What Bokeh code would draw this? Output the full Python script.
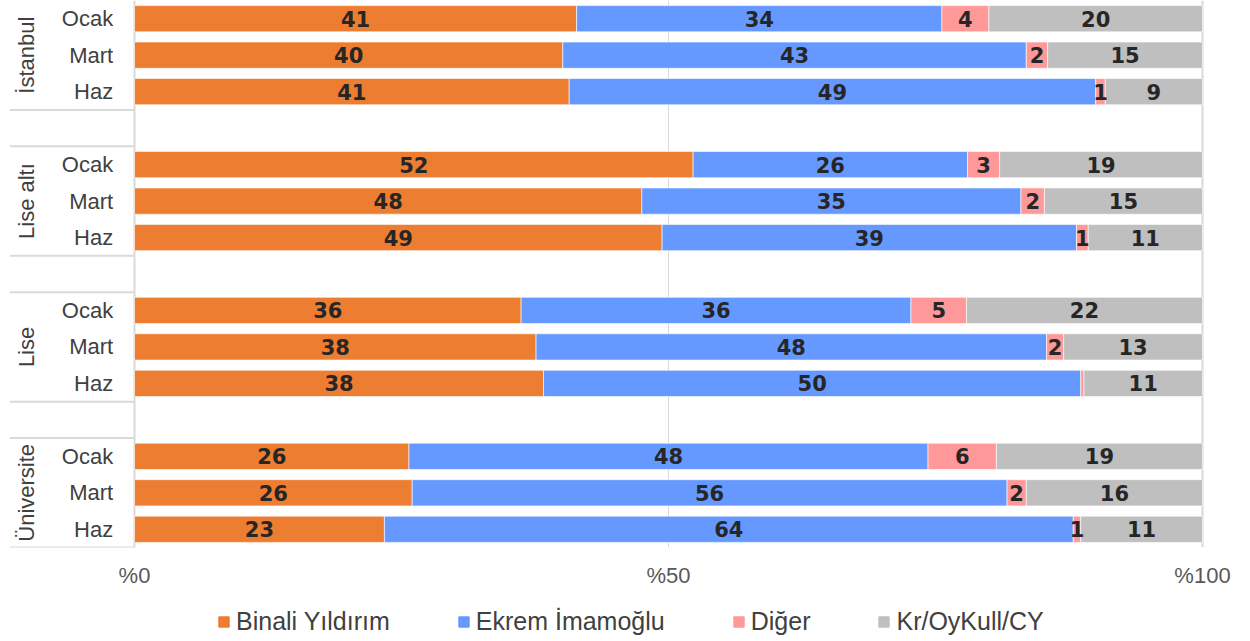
from bokeh.plotting import figure
from bokeh.models import (ColumnDataSource, FixedTicker, Legend, LegendItem, Span, Range1d)
from bokeh.layouts import column
from bokeh.core.properties import value
from bokeh.embed import file_html
from bokeh.resources import INLINE

groups = ["İstanbul", "Lise altı", "Lise", "Üniversite"]
months = ["Ocak", "Mart", "Haz"]
series = ["Binali Yıldırım", "Ekrem İmamoğlu", "Diğer", "Kr/OyKull/CY"]
colors = ["#ED7D31", "#6699FF", "#FF9999", "#BFBFBF"]

binali = [41.4, 40.1, 40.7, 52.3, 47.5, 49.4, 36.2, 37.6, 38.3, 25.7, 26.0, 23.4]
ekrem = [34.2, 43.4, 49.3, 25.7, 35.5, 38.8, 36.5, 47.8, 50.3, 48.6, 55.7, 64.5]
diger = [4.4, 2.0, 0.9, 3.0, 2.2, 1.1, 5.2, 1.6, 0.3, 6.4, 1.8, 0.7]
kr = [20.0, 14.5, 9.1, 19.0, 14.8, 10.7, 22.1, 13.0, 11.1, 19.3, 16.5, 11.4]

lab_binali = [41, 40, 41, 52, 48, 49, 36, 38, 38, 26, 26, 23]
lab_ekrem = [34, 43, 49, 26, 35, 39, 36, 48, 50, 48, 56, 64]
lab_diger = [4, 2, 1, 3, 2, 1, 5, 2, None, 6, 2, 1]
lab_kr = [20, 15, 9, 19, 15, 11, 22, 13, 11, 19, 16, 11]

ticks = [0, 50, 100]
tick_labels = ["%0", "%50", "%100"]

# row positions: each group takes 3 rows plus one empty gap row
ys = [g * 4 + m for g in range(len(groups)) for m in range(len(months))]
row_months = [months[m] for g in range(len(groups)) for m in range(len(months))]

vals = [binali, ekrem, diger, kr]
labs = [lab_binali, lab_ekrem, lab_diger, lab_kr]
keys = ["b", "e", "d", "k"]

src = ColumnDataSource(dict(y=ys, b=binali, e=ekrem, d=diger, k=kr))

X0 = -11.704
X1 = 102.809
p = figure(frame_width=1223, frame_height=547, output_backend="svg", toolbar_location=None,
           x_range=Range1d(X0, X1), y_range=Range1d(14.5, -0.5),
           y_axis_location=None, min_border_left=9, min_border_right=2,
           min_border_top=0, min_border_bottom=45)
p.outline_line_color = None
p.ygrid.visible = False
p.xgrid.ticker = FixedTicker(ticks=[50])
p.xgrid.grid_line_color = "#D9D9D9"
p.xgrid.grid_line_width = 1

for xv in (0, 100):
    p.add_layout(Span(location=xv, dimension="height", line_color="#D9D9D9", line_width=2, level="underlay"))

rs = p.hbar_stack(keys, y="y", height=0.72, color=colors, source=src,
                  line_color="white", line_alpha=0.6, line_width=1)

# segment labels
tx, ty, tt = [], [], []
for i, y in enumerate(ys):
    left = 0.0
    for s in range(4):
        v = vals[s][i]
        lab = labs[s][i]
        if lab is not None:
            tx.append(left + v / 2)
            ty.append(y)
            tt.append(str(lab))
        left += v
p.text(x=tx, y=ty, text=tt, text_font=value("DejaVu Sans"), text_font_style="bold",
       text_font_size="21px", text_color="#262626", text_align="center", text_baseline="middle")

# left table: month labels
p.text(x=[-2.0] * len(ys), y=ys, text=row_months, text_font=value("Liberation Sans"),
       text_font_size="22px", text_color="#404040", text_align="right", text_baseline="middle")
# group labels rotated
gy = [g * 4 + 1 for g in range(len(groups))]
p.text(x=[-10.1] * len(groups), y=gy, text=groups, angle=1.5708, text_font=value("Liberation Sans"),
       text_font_size="22px", text_color="#404040", text_align="center", text_baseline="middle")
# table separator lines
sep = []
for g in range(len(groups)):
    sep.append(g * 4 + 2.5)
    sep.append(g * 4 + 3.5)
p.segment(x0=[X0] * len(sep), x1=[0] * len(sep), y0=sep, y1=sep, line_color="#D9D9D9", line_width=2)

ax = p.xaxis[0]
ax.ticker = FixedTicker(ticks=ticks)
ax.major_label_overrides = {t: l for t, l in zip(ticks, tick_labels)}
ax.axis_line_color = None
ax.major_tick_line_color = None
ax.minor_tick_line_color = None
ax.major_tick_in = 0
ax.major_tick_out = 0
ax.major_label_standoff = 15
ax.major_label_text_font = "Liberation Sans"
ax.major_label_text_font_size = "22px"
ax.major_label_text_color = "#595959"

# legend in its own strip below the chart (swatch renderers sit outside the visible range)
lp = figure(width=1234, height=45, output_backend="svg", toolbar_location=None,
            x_range=Range1d(0, 1), y_range=Range1d(0, 1), min_border=0)
lp.axis.visible = False
lp.grid.visible = False
lp.outline_line_color = None
lrs = [lp.hbar(y=[-5], left=[0], right=[1], height=0.5, color=c) for c in colors]
items = [LegendItem(label=s, renderers=[r]) for s, r in zip(series, lrs)]
leg = Legend(items=items, orientation="horizontal", location=(208, 1), spacing=67,
             label_text_font="Liberation Sans", label_text_font_size="25px",
             label_text_color="#404040", glyph_width=13, glyph_height=13, label_standoff=6,
             border_line_color=None, background_fill_alpha=0, padding=0, margin=0)
lp.add_layout(leg)

layout = column(p, lp, spacing=0)
open("out.html", "w").write(file_html(layout, INLINE))
